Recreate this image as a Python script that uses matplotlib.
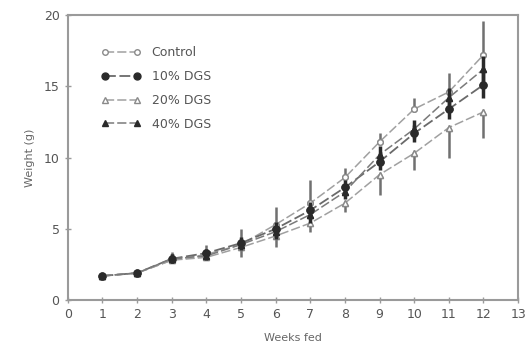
import numpy as np
import matplotlib
matplotlib.use("Agg")
import matplotlib.pyplot as plt

# weeks and mean body weight (g)
weeks = [1, 2, 3, 4, 5, 6, 7, 8, 9, 10, 11, 12]
control = [1.7, 1.9, 2.8, 3.2, 3.9, 5.3, 6.8, 8.6, 11.1, 13.4, 14.6, 17.2]
dgs10 = [1.7, 1.9, 2.9, 3.3, 4.0, 5.0, 6.3, 7.9, 9.7, 11.7, 13.4, 15.1]
dgs20 = [1.7, 1.9, 2.8, 3.0, 3.7, 4.5, 5.4, 6.8, 8.8, 10.3, 12.1, 13.2]
dgs40 = [1.7, 1.9, 2.9, 3.1, 3.9, 4.8, 6.0, 7.6, 10.2, 12.0, 14.2, 16.2]

# error bar half-widths (upper on control, lower on 20%)
err_up = [0.0, 0.0, 0.6, 0.7, 1.1, 1.2, 1.6, 0.7, 0.6, 0.8, 1.3, 2.4]
err_dn = [0.0, 0.0, 0.2, 0.1, 0.7, 0.8, 0.6, 0.6, 1.4, 1.2, 2.1, 1.8]
err_mid = [0.0, 0.0, 0.3, 0.3, 0.4, 0.5, 0.6, 0.5, 0.6, 0.6, 0.7, 0.9]

labels = ["Control", "10% DGS", "20% DGS", "40% DGS"]

fig = plt.figure(figsize=(5.26, 3.56), dpi=100)
ax = fig.add_axes([0.129, 0.157, 0.856, 0.801])

gray = "#8a8a8a"
dark = "#2a2a2a"
zero = [0.0] * len(weeks)

ax.errorbar(weeks, control, yerr=[zero, err_up], fmt="o", mfc="white", mec=gray,
            ecolor="#707070", ms=4, elinewidth=1.8, capsize=0, zorder=4)
ax.errorbar(weeks, dgs20, yerr=[err_dn, zero], fmt="^", mfc="white", mec=gray,
            ecolor="#707070", ms=4, elinewidth=1.8, capsize=0, zorder=4)
ax.errorbar(weeks, dgs10, yerr=err_mid, fmt="o", color=dark, ms=5,
            elinewidth=2.5, capsize=0, zorder=5)
ax.errorbar(weeks, dgs40, yerr=err_mid, fmt="^", color=dark, ms=4,
            elinewidth=2.5, capsize=0, zorder=5)

ax.plot(weeks, control, ls=(0, (6, 2)), color="#a0a0a0", lw=1.1, marker="o",
        mfc="white", mec=gray, ms=4, label=labels[0], zorder=3)
ax.plot(weeks, dgs10, ls=(0, (6, 2)), color="#6a6a6a", lw=1.3, marker="o",
        mfc=dark, mec=dark, ms=5, label=labels[1], zorder=3)
ax.plot(weeks, dgs20, ls=(0, (6, 2)), color="#a0a0a0", lw=1.1, marker="^",
        mfc="white", mec=gray, ms=4, label=labels[2], zorder=3)
ax.plot(weeks, dgs40, ls=(0, (6, 2)), color="#7a7a7a", lw=1.1, marker="^",
        mfc=dark, mec=dark, ms=4, label=labels[3], zorder=3)

ax.set_xlim(0, 13)
ax.set_ylim(0, 20)
ax.set_xticks(range(0, 14))
ax.set_yticks([0, 5, 10, 15, 20])
for s in ax.spines.values():
    s.set_color("#9a9a9a")
    s.set_linewidth(1.5)
ax.tick_params(colors="#9a9a9a", labelcolor="#555555", labelsize=9,
               direction="inout", length=5, width=1)

ax.set_xlabel("Weeks fed", color="#666666", fontsize=8, labelpad=8)
ax.set_ylabel("Weight (g)", color="#666666", fontsize=8, labelpad=6)

leg = ax.legend(loc="upper left", bbox_to_anchor=(0.05, 0.93), frameon=False,
                numpoints=2, handlelength=3.1, fontsize=9, labelspacing=0.87,
                handletextpad=0.9)
for t in leg.get_texts():
    t.set_color("#555555")

fig.savefig("out.png", dpi=100)
